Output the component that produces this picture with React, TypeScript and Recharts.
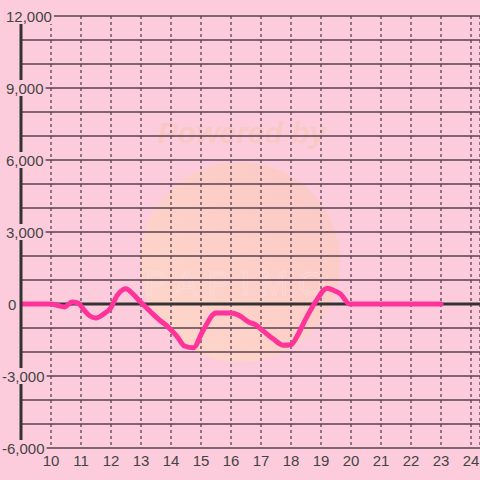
import React from 'react';
import { LineChart, Line, XAxis, YAxis, CartesianGrid, ReferenceLine } from 'recharts';

const hours = [9, 10, 10.2, 10.45, 10.7, 10.9, 11.1, 11.3, 11.5, 11.75, 12.0, 12.2, 12.4, 12.5, 12.7, 13.0, 13.3, 13.6, 13.9, 14.2, 14.45, 14.75, 15.05, 15.5, 16.0, 16.3, 16.6, 16.8, 17.1, 17.4, 17.75, 18.0, 18.2, 18.5, 18.85, 19.2, 19.45, 19.65, 19.95, 23.0];
const values = [0, 0, -50, -120, 80, 40, -250, -500, -580, -420, -150, 350, 600, 640, 450, 60, -300, -650, -950, -1350, -1750, -1820, -1150, -380, -380, -500, -760, -850, -1150, -1450, -1720, -1700, -1350, -600, 150, 660, 550, 420, 0, 0];
const xTicks = [10, 11, 12, 13, 14, 15, 16, 17, 18, 19, 20, 21, 22, 23, 24];
const yTicks = [-6000, -5000, -4000, -3000, -2000, -1000, 0, 1000, 2000, 3000, 4000, 5000, 6000, 7000, 8000, 9000, 10000, 11000, 12000];
const yLabelStep = 3000;

const data = hours.map((h, i) => ({ h, v: values[i] }));

const BG = '#fdccdc';
const GRID = '#5a4252';
const TEXT = '#444';
const FONT = '"Liberation Sans", Arial, sans-serif';

const textWidth = (s: string) => {
  let w = 0;
  for (const c of s) {
    if (c === ',') w += 4.2;
    else if (c === '-') w += 5;
    else w += 8.34;
  }
  return w;
};

const YTick = (props: any) => {
  const { y, payload } = props;
  const v = payload.value as number;
  if (v % yLabelStep !== 0) return <g />;
  const label = v.toLocaleString('en-US');
  const left = v < 0 ? 2 : v === 0 ? 8 : 6;
  const w = textWidth(label);
  return (
    <g>
      <rect x={left - 1} y={y - 8} width={w + 3} height={16} fill={BG} />
      <text x={left} y={y + 5.5} fontSize={15} fill={TEXT} textAnchor="start" fontFamily={FONT}>
        {label}
      </text>
    </g>
  );
};

const XTick = (props: any) => {
  const { x, y, payload } = props;
  return (
    <text x={x} y={y + 10} fontSize={15} fill={TEXT} textAnchor="middle" fontFamily={FONT}>
      {payload.value}
    </text>
  );
};

export default function App() {
  return (
    <div style={{ position: 'absolute', left: 0, top: 0, width: 480, height: 480, background: BG, overflow: 'hidden' }}>
      <svg width={480} height={480} style={{ position: 'absolute', left: 0, top: 0 }}>
        <defs>
          <linearGradient id="wm" x1="0" y1="1" x2="1" y2="0">
            <stop offset="0%" stopColor="#ffe3b8" />
            <stop offset="100%" stopColor="#f9c3b0" />
          </linearGradient>
        </defs>
        <circle cx={240} cy={262} r={100} fill="url(#wm)" opacity={0.5} />
        <text x={242} y={143} fontSize={30} fontWeight="bold" fontStyle="italic" fill="#f7c6b4" opacity={0.55} textAnchor="middle" fontFamily={FONT}>
          Powered by
        </text>
        <text x={240} y={295} fontSize={34} fill="none" stroke="#fbe3ea" strokeWidth={0.8} opacity={0.55} textAnchor="middle" letterSpacing={10} fontFamily={FONT}>
          PAPIMO
        </text>
      </svg>
      <div style={{ position: 'absolute', left: 0, top: 0 }}>
        <LineChart width={480} height={480} data={data} margin={{ top: 16, right: 0, bottom: 0, left: 0 }}>
          <CartesianGrid horizontal={true} vertical={false} stroke={GRID} strokeWidth={1.5} />
          <CartesianGrid horizontal={false} vertical={true} stroke={GRID} strokeWidth={1.3} strokeDasharray="3 3" />
          <XAxis
            dataKey="h"
            type="number"
            domain={[9, 24.3]}
            ticks={xTicks}
            height={32}
            axisLine={false}
            tickLine={false}
            tick={<XTick />}
            allowDataOverflow
          />
          <YAxis
            type="number"
            domain={[-6000, 12000]}
            ticks={yTicks}
            width={21}
            axisLine={{ stroke: '#333', strokeWidth: 3 }}
            tickLine={false}
            tick={<YTick />}
            interval={0}
          />
          <ReferenceLine y={0} stroke="#333" strokeWidth={3} />
          <Line
            type="monotone"
            dataKey="v"
            stroke="#ff3399"
            strokeWidth={5}
            dot={false}
            strokeLinejoin="round"
            strokeLinecap="round"
            isAnimationActive={false}
          />
        </LineChart>
      </div>
    </div>
  );
}
